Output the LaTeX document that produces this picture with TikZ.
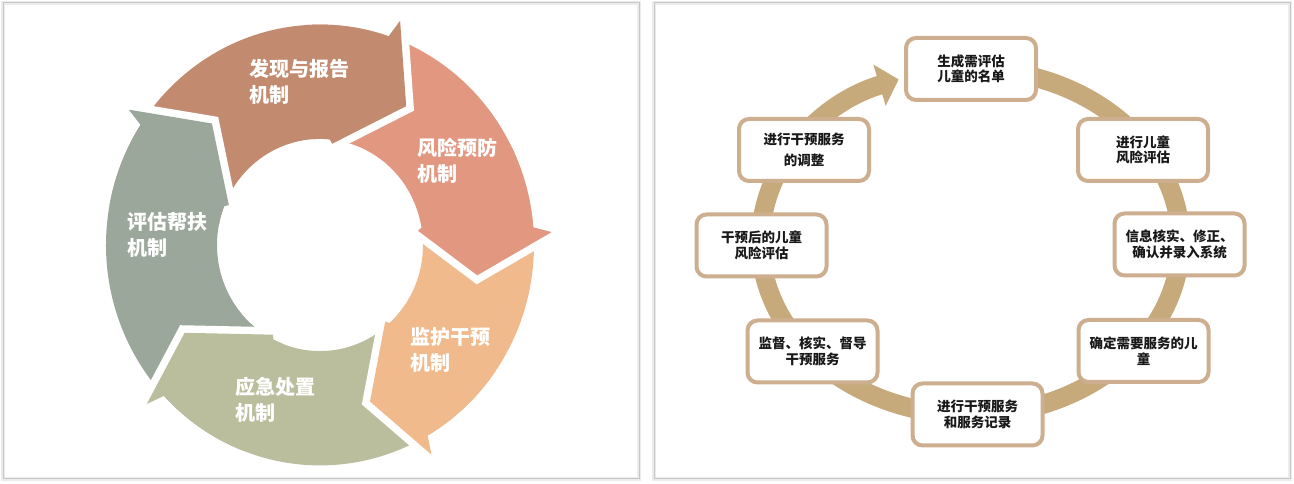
\documentclass[tikz,border=0pt]{standalone}
\usepackage{fontspec}
\newfontfamily\cjk{Noto Sans CJK SC}
\usetikzlibrary{arrows.meta}
\definecolor{cBrown}{RGB}{194,139,112}
\definecolor{cSalmon}{RGB}{226,151,129}
\definecolor{cOrange}{RGB}{241,186,141}
\definecolor{cGreen}{RGB}{186,190,156}
\definecolor{cGray}{RGB}{156,167,156}
\definecolor{ringtan}{RGB}{198,170,124}
\definecolor{boxtan}{RGB}{205,174,142}
\newcommand\ringRo{214}
\newcommand\ringRi{103}
\newcommand\ringRm{160}
% ring sector: colour, start angle, end angle
\newcommand\ringsector[3]{\fill[#1] (#2:\ringRo) arc[start angle=#2, end angle=#3, radius=\ringRo] -- (#3:\ringRi) arc[start angle=#3, end angle=#2, radius=\ringRi] -- cycle;}
% white gap along an arrow head: tip angle, outer offset, inner offset
\newcommand\headcut[3]{\draw[white,line width=15pt,line join=miter,miter limit=20] ({#1+#2}:{\ringRo+18}) -- (#1:\ringRm) -- ({#1+#3}:{\ringRi-4});}
% arrow head fill: tip angle, outer offset, inner offset, colour
\newcommand\headfill[4]{\fill[#4] ({#1+37}:\ringRo) arc[start angle={#1+37}, end angle={#1+#2+1.5}, radius=\ringRo] -- ({#1+#2}:{\ringRo+18}) -- (#1:\ringRm) -- ({#1+#3}:{\ringRi-4}) -- ({#1+#3+1.5}:\ringRi) arc[start angle={#1+#3+1.5}, end angle={#1+37}, radius=\ringRi] -- cycle;}
\tikzset{
  lbl/.style={text=white, font=\cjk\bfseries\fontsize{20}{26}\selectfont, align=left, inner sep=0pt, anchor=west},
  bx/.style={draw=boxtan, line width=4pt, fill=white, rounded corners=10pt, minimum width=130pt, minimum height=62pt, align=center, inner sep=2pt, font=\cjk\bfseries\fontsize{13.5}{15.5}\selectfont, text=black!90},
  ringline/.style={draw=ringtan, line width=19pt},
  panel/.style={draw=gray!45, line width=1pt},
  panelshadow/.style={draw=gray!15, line width=4pt}
}
\begin{document}
\begin{tikzpicture}[x=1pt,y=1pt]
\useasboundingbox (0,0) rectangle (1294,484);
\fill[white] (0,0) rectangle (1294,484);
% panels
\draw[panelshadow] (3,5) rectangle (639,481);
\draw[panel] (3,5) rectangle (639,481);
\draw[panelshadow] (654,5) rectangle (1290,481);
\draw[panel] (654,5) rectangle (1290,481);

% ---------- left: circular arrows ----------
\begin{scope}[shift={(320,239)}, yscale=1.03]
  \ringsector{cGray}{246.2}{166.5}
  \ringsector{cBrown}{166.5}{91.4}
  \ringsector{cSalmon}{91.4}{23.4}
  \ringsector{cOrange}{23.4}{-37.8}
  \ringsector{cGreen}{-37.8}{-113.8}
  \headcut{132.5}{13}{24.5}
  \headcut{57.4}{12.4}{25.6}
  \headcut{-10.6}{13.7}{18.6}
  \headcut{-71.8}{10.5}{23}
  \headcut{212.2}{9.5}{29.4}
  \headfill{132.5}{13}{24.5}{cGray}
  \headfill{57.4}{12.4}{25.6}{cBrown}
  \headfill{-10.6}{13.7}{18.6}{cSalmon}
  \headfill{-71.8}{10.5}{23}{cOrange}
  \headfill{212.2}{9.5}{29.4}{cGreen}
\end{scope}
\node[lbl] (l1) at (249,402) {发现与报告\\机制};
\node[lbl] (l2) at (417,323.5) {风险预防\\机制};
\node[lbl] (l3) at (410,134) {监护干预\\机制};
\node[lbl] (l4) at (235,84.5) {应急处置\\机制};
\node[lbl] (l5) at (127,249) {评估帮扶\\机制};

% ---------- right: cycle of boxes ----------
\coordinate (rs) at (970.5,415);
\draw[ringline, -{Triangle[length=20pt,width=42pt]}] (rs) arc[start angle=90, end angle=-250, x radius=210, y radius=173];
\node[bx] (b1) at (971,415) {生成需评估\\儿童的名单};
\node[bx] (b2) at (1143,334) {进行儿童\\风险评估};
\node[bx] (b3) at (1179.5,239.5) {信息核实、修正、\\确认并录入系统};
\node[bx] (b4) at (1143.5,133) {确定需要服务的儿\\童};
\node[bx] (b5) at (977.5,69.5) {进行干预服务\\和服务记录};
\node[bx] (b6) at (812.5,132.5) {监督、核实、督导\\干预服务};
\node[bx] (b7) at (761.5,238.5) {干预后的儿童\\风险评估};
\node[bx] (b8) at (804,334) {进行干预服务\\[6pt]的调整};
\end{tikzpicture}
\end{document}
